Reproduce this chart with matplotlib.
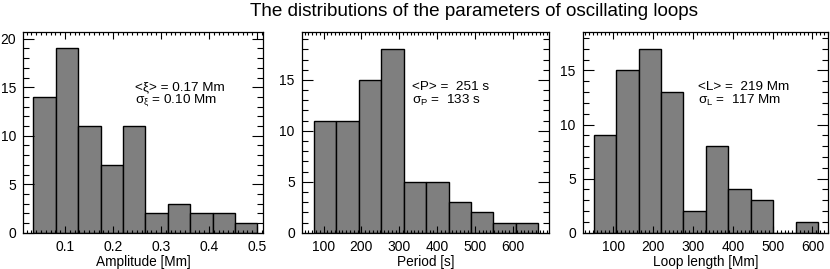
import numpy as np
import matplotlib
matplotlib.use("Agg")
import matplotlib.pyplot as plt
from matplotlib.ticker import MultipleLocator

plt.rcParams['font.family'] = ['Liberation Sans', 'DejaVu Sans']
plt.rcParams['mathtext.fontset'] = 'custom'
plt.rcParams['mathtext.rm'] = 'Liberation Sans'
plt.rcParams['mathtext.it'] = 'Liberation Sans'

# Panel 1: amplitude [Mm]
amp_range = (0.034, 0.501)
amp_counts = [14, 19, 11, 7, 11, 2, 3, 2, 2, 1]
# Panel 2: period [s]
per_range = (74.4, 667.0)
per_counts = [11, 11, 15, 18, 5, 5, 3, 2, 1, 1]
# Panel 3: loop length [Mm]
len_range = (50.8, 614.3)
len_counts = [9, 15, 17, 13, 2, 8, 4, 3, 0, 1]

xlabels = ["Amplitude [Mm]", "Period [s]", "Loop length [Mm]"]
title = "The distributions of the parameters of oscillating loops"
texts = [("<ξ> = 0.17 Mm", r"$\sigma_{\xi}$ = 0.10 Mm"),
         ("<P> =  251 s", r"$\sigma_{\rm P}$ =  133 s"),
         ("<L> =  219 Mm", r"$\sigma_{\rm L}$ =  117 Mm")]

xlims = [(0.0125, 0.5125), (42.4, 695), (23, 640)]
xmajor = [0.1, 100, 100]
xminor = [0.01, 10, 10]
ylims = [20.7, 19.7, 18.55]
text_x = [135, 412, 698]

W, H = 830, 269
fig = plt.figure(figsize=(W / 100, H / 100), dpi=100)
boxes = [(23, 263), (301.7, 549), (582.7, 828.3)]
top, bottom = 32, 232.7

data = [(amp_range, amp_counts), (per_range, per_counts), (len_range, len_counts)]
for i, ((lo, hi), counts) in enumerate(data):
    l, r = boxes[i]
    ax = fig.add_axes([l / W, 1 - bottom / H, (r - l) / W, (bottom - top) / H])
    edges = np.linspace(lo, hi, len(counts) + 1)
    ax.bar(edges[:-1], counts, width=np.diff(edges), align='edge',
           color='#7f7f7f', edgecolor='black', linewidth=1.0)
    ax.set_xlim(*xlims[i])
    ax.set_ylim(0, ylims[i])
    ax.xaxis.set_major_locator(MultipleLocator(xmajor[i]))
    ax.xaxis.set_minor_locator(MultipleLocator(xminor[i]))
    ax.yaxis.set_major_locator(MultipleLocator(5))
    ax.yaxis.set_minor_locator(MultipleLocator(1))
    ax.tick_params(which='both', direction='in', top=True, right=True,
                   labelsize=10, width=0.8)
    ax.tick_params(axis='y', which='major', length=8, pad=5)
    ax.tick_params(axis='y', which='minor', length=4)
    ax.tick_params(axis='x', which='major', length=5, pad=5)
    ax.tick_params(axis='x', which='minor', length=2.5)
    for s in ax.spines.values():
        s.set_linewidth(0.9)
    ax.set_xlabel(xlabels[i], fontsize=9.8, labelpad=1)
    t1, t2 = texts[i]
    fig.text(text_x[i] / W, 1 - 87 / H, t1, fontsize=9.7, va='center', ha='left')
    fig.text(text_x[i] / W, 1 - 100 / H, t2, fontsize=9.7, va='center', ha='left')

fig.text(473.5 / W, 1 - 12 / H, title, fontsize=13.6, ha='center', va='center')

fig.savefig("out.png", dpi=100)
